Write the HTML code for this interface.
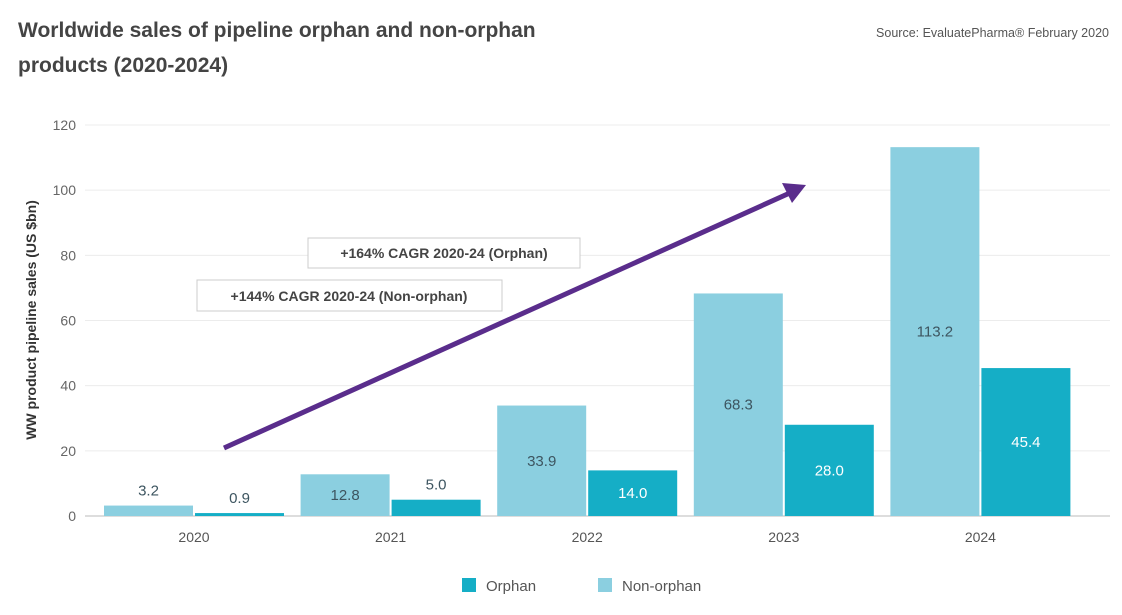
<!DOCTYPE html>
<html><head><meta charset="utf-8"><style>
body{margin:0;background:#fff;font-family:"Liberation Sans",sans-serif;}
</style></head><body>
<svg id="chart" width="1122" height="610" viewBox="0 0 1122 610" xmlns="http://www.w3.org/2000/svg">
<text x="18" y="37" font-size="21" font-weight="bold" fill="#444">Worldwide sales of pipeline orphan and non-orphan</text>
<text x="18" y="72" font-size="21" font-weight="bold" fill="#444">products (2020-2024)</text>
<text x="1109" y="37" font-size="12.5" fill="#555" text-anchor="end">Source: EvaluatePharma® February 2020</text>
<g id="grid"></g>
<g id="bars"></g>
<text transform="translate(36,320) rotate(-90)" font-size="14" font-weight="bold" fill="#333" text-anchor="middle">WW product pipeline sales (US $bn)</text>
<line x1="224" y1="448" x2="792" y2="192" stroke="#5a2d8c" stroke-width="5"/>
<polygon points="806,185 782,183 792,203" fill="#5a2d8c"/>
<g>
<rect x="308" y="238" width="272" height="30" fill="#fff" stroke="#ccc"/>
<text x="444" y="258" font-size="14" font-weight="bold" fill="#444" text-anchor="middle">+164% CAGR 2020-24 (Orphan)</text></g>
<g>
<rect x="197" y="280" width="305" height="31" fill="#fff" stroke="#ccc"/>
<text x="349" y="301" font-size="14" font-weight="bold" fill="#444" text-anchor="middle">+144% CAGR 2020-24 (Non-orphan)</text></g>
<g>
<rect x="462" y="578" width="14" height="14" fill="#15aec6"/>
<text x="486" y="591" font-size="15" fill="#555">Orphan</text>
<rect x="598" y="578" width="14" height="14" fill="#8bcfe0"/>
<text x="622" y="591" font-size="15" fill="#555">Non-orphan</text>
</g>
</svg>
<script>
const categories=["2020","2021","2022","2023","2024"];
const nonOrphan=[3.2,12.8,33.9,68.3,113.2];
const orphan=[0.9,5.0,14.0,28.0,45.4];
const yTicks=[0,20,40,60,80,100,120];
const NS="http://www.w3.org/2000/svg";
const y=v=>516-v*391/120;
const xc=i=>194+196.6*i;
const bw=89;
function mk(tag,attrs,parent){const e=document.createElementNS(NS,tag);for(const k in attrs)e.setAttribute(k,attrs[k]);parent.appendChild(e);return e;}
const grid=document.getElementById('grid'),bars=document.getElementById('bars');
yTicks.forEach(t=>{
 const l=mk('line',{x1:85,x2:1110,y1:y(t),y2:y(t),stroke:t===0?'#ddd':'#ececec','stroke-width':t===0?2:1},grid);
 
 
 const tx=mk('text',{x:76,y:y(t)+5,'font-size':14,fill:'#666','text-anchor':'end'},grid);
 tx.textContent=t;
 
 
});
categories.forEach((c,i)=>{
 const tx=mk('text',{x:xc(i),y:542,'font-size':14,fill:'#555','text-anchor':'middle'},grid);
 tx.textContent=c;
 
 
 [[nonOrphan[i],'#8bcfe0',xc(i)-bw-1,'non-orphan'],[orphan[i],'#15aec6',xc(i)+1,'orphan']].forEach(([v,col,x,nm])=>{
  const h=516-y(v);
  const r=mk('rect',{x:x,y:y(v),width:bw,height:h,fill:col},bars);
  
  
  const inside=h>40;
  const white=nm==='orphan'&&v>10;
  const ly=inside?y(v)+h*0.5+5:y(v)-10;
  const t=mk('text',{x:x+bw/2,y:ly,'font-size':15,fill:white?'#fff':'#3d5560','text-anchor':'middle'},bars);
  t.textContent=v.toFixed(1);
  
  
 });
});
</script>
</body></html>
